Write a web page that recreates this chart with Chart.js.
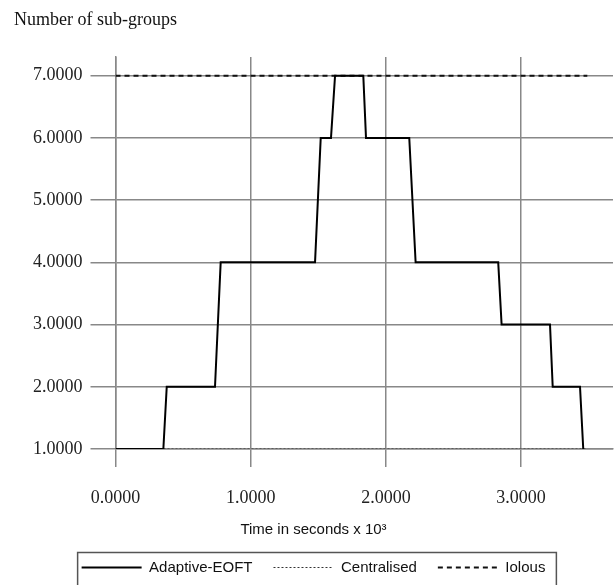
<!DOCTYPE html>
<html>
<head>
<meta charset="utf-8">
<title>Number of sub-groups</title>
<script src="https://cdn.jsdelivr.net/npm/chart.js@4.4.1/dist/chart.umd.min.js"></script>
<style>
  html, body { margin: 0; padding: 0; background: #fff; }
  #wrap { position: relative; width: 616px; height: 585px; }
</style>
</head>
<body>
<div id="wrap"><canvas id="groupsChart"></canvas></div>
<script>
document.addEventListener('DOMContentLoaded', function () {
  // Time in seconds x 10^3 / number of sub-groups
  const adaptiveTime = [0, 0.354, 0.379, 0.736, 0.778, 1.476, 1.518, 1.594, 1.624, 1.833, 1.853, 2.173, 2.220, 2.831, 2.856, 3.214, 3.234, 3.436, 3.460];
  const adaptiveGroups = [1, 1, 2, 2, 4, 4, 6, 6, 7, 7, 6, 6, 4, 4, 3, 3, 2, 2, 1];
  const centralisedTime = [0, 3.49];
  const centralisedGroups = [1, 1];
  const iolousTime = [0, 3.49];
  const iolousGroups = [7, 7];

  const seriesNames = ['Adaptive-EOFT', 'Centralised', 'Iolous'];
  const xTicks = [0, 1, 2, 3];
  const yTicks = [1, 2, 3, 4, 5, 6, 7];

  const toPoints = (xs, ys) => xs.map((x, i) => ({ x: x, y: ys[i] }));

  const gridGrey = '#888';
  const serif = '"Liberation Serif", "Times New Roman", serif';
  const sans = '"Liberation Sans", Arial, sans-serif';

// frame round the legend---------------------
  const legendFrame = {
    id: 'legendFrame',
    afterDraw(chart) {
      const boxes = chart.legend && chart.legend.legendHitBoxes;
      if (!boxes || !boxes.length) return;
      const first = boxes[0];
      const last = boxes[boxes.length - 1];
      const left = first.left - 4;
      const right = last.left + last.width + 11;
      const top = first.top + first.height / 2 - 15;
      const ctx = chart.ctx;
      ctx.save();
      ctx.strokeStyle = '#555';
      ctx.lineWidth = 1.5;
      ctx.strokeRect(left, top, right - left, chart.height - top + 4);
      ctx.restore();
    }
  };

// Line Chart---------------------------------
  const chartCanvas = document.getElementById('groupsChart').getContext('2d');
  new Chart(chartCanvas, {
    type: 'line',
    data: {
      datasets: [
        {
          label: seriesNames[0],
          data: toPoints(adaptiveTime, adaptiveGroups),
          borderColor: '#000',
          backgroundColor: '#000',
          borderWidth: 2
        },
        {
          label: seriesNames[1],
          data: toPoints(centralisedTime, centralisedGroups),
          borderColor: '#333',
          backgroundColor: '#333',
          borderWidth: 1,
          borderDash: [2, 2]
        },
        {
          label: seriesNames[2],
          data: toPoints(iolousTime, iolousGroups),
          borderColor: '#111',
          backgroundColor: '#111',
          borderWidth: 2,
          borderDash: [5, 4]
        }
      ]
    },
    options: {
      responsive: true,
      maintainAspectRatio: false,
      animation: false,
      elements: {
        point: { radius: 0, hoverRadius: 0 },
        line: { tension: 0, fill: false }
      },
      layout: { padding: { left: 14, right: 3, top: 0, bottom: 0 } },
      scales: {
        x: {
          type: 'linear',
          min: 0,
          max: 3.68,
          afterBuildTicks: axis => { axis.ticks = xTicks.map(v => ({ value: v })); },
          afterFit: axis => { axis.height = 59.6; },
          grid: { color: gridGrey, lineWidth: 1.5, tickLength: 18 },
          border: { color: gridGrey, width: 1.5 },
          ticks: {
            padding: 20,
            maxRotation: 0,
            color: '#222',
            font: { family: serif, size: 18 },
            callback: v => Number(v).toFixed(4)
          }
        },
        y: {
          type: 'linear',
          min: 1,
          max: 7.3,
          afterBuildTicks: axis => { axis.ticks = yTicks.map(v => ({ value: v })); },
          afterFit: axis => { axis.width = 101.5; },
          grid: { color: gridGrey, lineWidth: 1.5, tickLength: 25 },
          border: { color: gridGrey, width: 1.5 },
          ticks: {
            padding: 8,
            color: '#222',
            font: { family: serif, size: 18 },
            callback: v => Number(v).toFixed(4)
          }
        }
      },
      plugins: {
        title: {
          display: true,
          text: 'Number of sub-groups',
          align: 'start',
          color: '#111',
          font: { family: serif, size: 18, weight: 'normal' },
          padding: { top: 9, bottom: 26.4 }
        },
        subtitle: {
          display: true,
          position: 'bottom',
          weight: 500,
          text: 'Time in seconds x 10³',
          color: '#111',
          font: { family: sans, size: 15, weight: 'normal' },
          padding: { top: 12.4, bottom: 0 }
        },
        legend: {
          position: 'bottom',
          weight: 1000,
          labels: {
            usePointStyle: true,
            pointStyle: 'line',
            pointStyleWidth: 60,
            boxWidth: 60,
            boxHeight: 10,
            padding: 21,
            color: '#111',
            font: { family: sans, size: 15 },
            // the legend samples follow each dataset's own line style
            generateLabels: chart => chart.data.datasets.map((ds, i) => ({
              text: ds.label,
              datasetIndex: i,
              fillStyle: ds.borderColor,
              strokeStyle: ds.borderColor,
              lineWidth: ds.borderWidth,
              lineDash: ds.borderDash || [],
              pointStyle: 'line',
              fontColor: '#111',
              hidden: false
            }))
          }
        },
        tooltip: { enabled: false }
      }
    },
    plugins: [legendFrame]
  });
});
</script>
</body>
</html>
